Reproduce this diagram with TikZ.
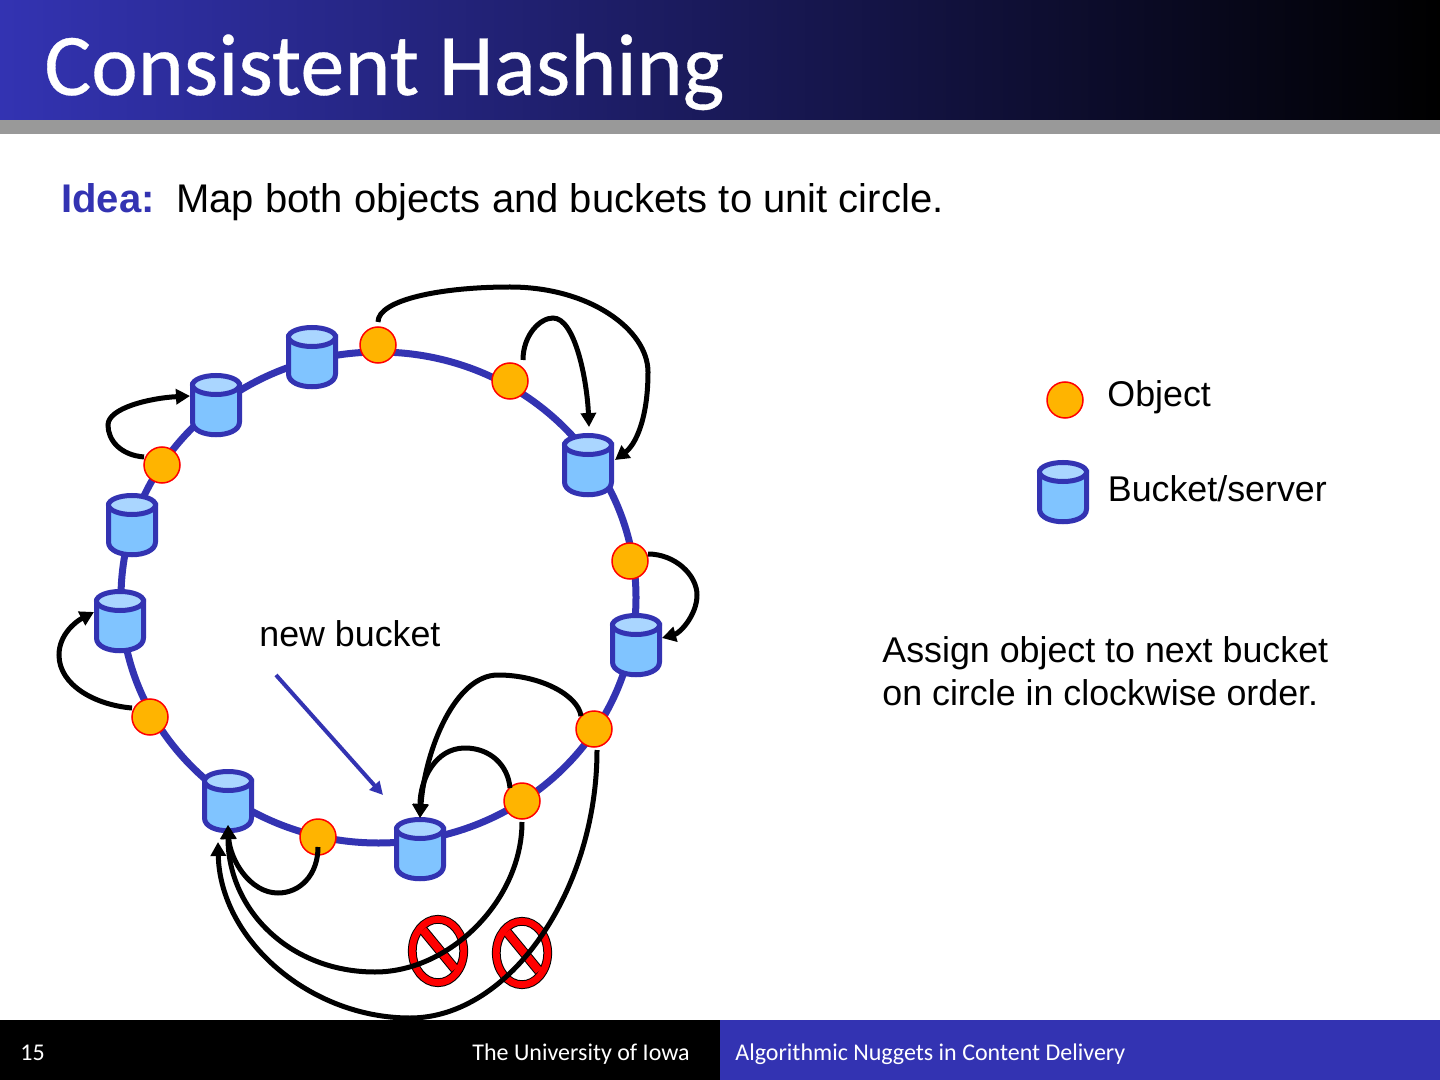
\documentclass[tikz,border=0pt]{standalone}
\usepackage{fontspec}
\setmainfont{Liberation Sans}
\newfontfamily\carlito{Carlito}
\newfontfamily\carlitoheavy[FakeBold=0.4]{Carlito}
\usetikzlibrary{arrows.meta,calc}
\definecolor{slideblue}{HTML}{3333B2}
\definecolor{objfill}{HTML}{FFB400}
\definecolor{bodyblue}{HTML}{80C4FF}
\definecolor{topblue}{HTML}{AAD6FF}
\definecolor{bargray}{HTML}{999999}
\tikzset{
  objectdot/.style={circle,draw=red,fill=objfill,line width=0.75pt,minimum size=18pt,inner sep=0pt},
  bucketnode/.style={rectangle,minimum width=25pt,minimum height=30pt,inner sep=0pt},
  bucketline/.style={draw=slideblue,line width=2.5pt},
  hop/.style={draw=black,line width=2.5pt,-{Triangle[length=7pt,width=7.5pt]}},
  nosign/.style={draw=black,line width=4.4pt},
  nosigninner/.style={draw=red,line width=3.4pt},
  nobar/.style={draw=black,line width=5pt},
  nobarinner/.style={draw=red,line width=4pt},
  body/.style={font=\fontsize{17.9}{21.5}\selectfont,anchor=base west,inner sep=0pt},
  footer/.style={font=\carlito\fontsize{12}{14}\selectfont,text=white,anchor=base west,inner sep=0pt}
}
\newcommand{\bucketat}[3]{%
  \begin{scope}[shift={(#2,#3)}]
    \path[bucketline,fill=bodyblue] (-23.5,-20) -- (-23.5,17) .. controls (-23.5,34) and (23.5,34) .. (23.5,17) -- (23.5,-20) -- cycle;
    \path[bucketline,fill=topblue] (0,-20) ellipse [x radius=11.75pt,y radius=4.75pt];
  \end{scope}
  \node[bucketnode] (#1) at (#2,#3) {};}
\newcommand{\nosignat}[3]{%
  \begin{scope}[shift={(#2,#3)}]
    \path[nosign] (0,0) ellipse [x radius=12.85pt,y radius=15.85pt];
    \path[nobar] (-15,-21) -- (17,18);
    \path[nosigninner] (0,0) ellipse [x radius=12.85pt,y radius=15.85pt];
    \path[nobarinner] (-15,-21) -- (17,18);
  \end{scope}
  \node[inner sep=0pt] (#1) at (#2,#3) {};}
\begin{document}
\begin{tikzpicture}[x=0.5pt,y=-0.5pt]
\useasboundingbox (0,0) rectangle (1440,1080);
\fill[white] (0,0) rectangle (1440,1080);
% header
\shade[left color=slideblue,right color=black] (0,0) rectangle (1440,120);
\fill[bargray] (0,120) rectangle (1440,134);
\node[font=\carlitoheavy\fontsize{44}{50}\selectfont,text=white,anchor=base west,inner sep=0pt] (title) at (44,95) {Consistent Hashing};
% footer
\fill[black] (0,1020) rectangle (720,1080);
\fill[slideblue] (720,1020) rectangle (1440,1080);
\node[footer] (pagenum) at (20,1060) {15};
\node[footer] (univ) at (472,1060) {The University of Iowa};
\node[footer] (talk) at (735,1060) {Algorithmic Nuggets in Content Delivery};
% idea
\node[anchor=base west,inner sep=0pt,font=\bfseries\fontsize{20}{24}\selectfont,text=slideblue] (idea) at (61,213) {Idea:};
\node[anchor=base west,inner sep=0pt,font=\fontsize{20}{24}\selectfont] (ideatext) at (176,213) {Map both objects and buckets to unit circle.};
% ring
\draw[slideblue,line width=3.5pt] (378.5,597.5) ellipse [x radius=128.75pt,y radius=122.75pt];
% no signs under curves
\nosignat{noa}{438}{951}
\nosignat{nob}{522}{953}
% buckets
\bucketat{ba}{312}{357}
\bucketat{bb}{216}{405}
\bucketat{bc}{132}{525}
\bucketat{bd}{120}{621}
\bucketat{be}{228}{801}
\bucketat{bf}{420}{849}
\bucketat{bg}{636}{645}
\bucketat{bh}{588}{465}
\bucketat{bl}{1063}{492}
% objects
\node[objectdot] (oa) at (378,345) {};
\node[objectdot] (ob) at (510,381) {};
\node[objectdot] (oc) at (630,561) {};
\node[objectdot] (od) at (594,729) {};
\node[objectdot] (oe) at (522,801) {};
\node[objectdot] (of) at (318,837) {};
\node[objectdot] (og) at (150,717) {};
\node[objectdot] (oh) at (162,465) {};
\node[objectdot] (ol) at (1065,400) {};
% assignment arcs
\draw[hop] ([shift={(0,-23)}]oa.center) .. controls (378,300) and (440,287) .. (510,287) .. controls (590,287) and (648,330) .. (648,372) .. controls (648,420) and (635,445) .. ([shift={(27,-5)}]bh.center);
\draw[hop] ([shift={(13,-21)}]ob.center) .. controls (523,335) and (540,318) .. (553,318) .. controls (575,318) and (587,380) .. ([shift={(1,-38)}]bh.center);
\draw[hop] ([shift={(18,-7)}]oc.center) .. controls (675,554) and (697,575) .. (697,595) .. controls (697,615) and (680,633) .. ([shift={(26,-7)}]bg.center);
\draw[hop] ([shift={(-13,-13)}]od.center) .. controls (578,695) and (540,675) .. (498,675) .. controls (455,675) and (425,750) .. ([shift={(0,-31)}]bf.center);
\draw[hop] ([shift={(-12,-13)}]oe.center) .. controls (508,765) and (490,748) .. (465,748) .. controls (435,748) and (420,780) .. ([shift={(0,-31)}]bf.center);
\draw[hop] ([shift={(0,10)}]of.center) .. controls (318,875) and (300,893) .. (278,893) .. controls (250,893) and (230,860) .. ([shift={(0,24)}]be.center);
\draw[hop] ([shift={(0,21)}]oe.center) .. controls (522,900) and (450,972) .. (375,972) .. controls (290,972) and (228,910) .. ([shift={(0,24)}]be.center);
\draw[hop] ([shift={(3,21)}]od.center) .. controls (597,890) and (510,1018) .. (410,1018) .. controls (310,1018) and (220,940) .. ([shift={(-10,41)}]be.center);
\draw[hop] ([shift={(-18,-9)}]og.center) .. controls (95,705) and (59,685) .. (59,655) .. controls (59,635) and (75,622) .. ([shift={(-26,-9)}]bd.center);
\draw[hop] ([shift={(-18,-8)}]oh.center) .. controls (120,455) and (108,440) .. (108,425) .. controls (108,408) and (150,398) .. ([shift={(-26,-9)}]bb.center);
% new bucket
\node[body] (newlabel) at (259,646) {new bucket};
\coordinate (newstart) at (276,675);
\draw[slideblue,line width=2pt,-{Triangle[length=6.5pt,width=6.5pt]}] (newstart) -- ([shift={(-37,-54)}]bf.center);
% legend
\node[body] (objlabel) at (1107,407) {Object};
\node[body] (buclabel) at (1107.5,502) {Bucket/server};
\node[body,anchor=north west,align=left] (assign) at (882,636) {Assign object to next bucket\\on circle in clockwise order.};
\end{tikzpicture}
\end{document}
